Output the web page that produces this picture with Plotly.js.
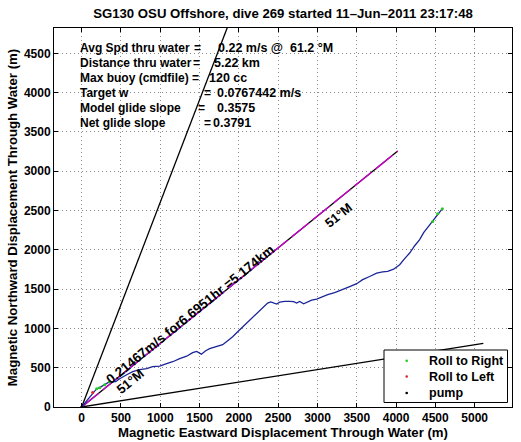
<!DOCTYPE html>
<html>
<head>
<meta charset="utf-8">
<script src="https://cdn.plot.ly/plotly-3.0.1.min.js"></script>
<style>html,body{margin:0;padding:0;background:#fff;}#chart{width:521px;height:442px;}</style>
</head>
<body>
<div id="chart"></div>
<script>
// ---- data ----
const trackX = [0, 76, 140, 191, 229, 293, 356, 433, 483, 573, 649, 738, 827, 903, 992, 1081, 1158, 1247, 1336, 1412, 1463, 1523, 1578, 1628, 1705, 1794, 1858, 1921, 1985, 2048, 2112, 2176, 2226, 2277, 2328, 2366, 2405, 2443, 2481, 2519, 2583, 2646, 2697, 2735, 2774, 2824, 2875, 2926, 2990, 3053, 3130, 3219, 3321, 3410, 3499, 3575, 3664, 3753, 3830, 3893, 3969, 4046, 4109, 4173, 4237, 4300, 4351, 4389, 4427, 4466, 4504, 4529, 4555, 4589];
const trackY = [0, 93, 183, 233, 246, 284, 322, 322, 360, 411, 449, 475, 487, 513, 519, 551, 576, 615, 646, 691, 707, 672, 716, 742, 767, 793, 844, 894, 958, 1018, 1073, 1136, 1187, 1238, 1280, 1323, 1336, 1327, 1310, 1333, 1343, 1343, 1340, 1323, 1343, 1314, 1340, 1359, 1374, 1403, 1429, 1454, 1492, 1531, 1569, 1620, 1660, 1702, 1718, 1725, 1753, 1810, 1887, 1959, 2052, 2129, 2218, 2268, 2319, 2361, 2421, 2459, 2489, 2523];

const rollRightX = [191, 229, 293, 356, 4466, 4529, 4589];
const rollRightY = [233, 246, 284, 322, 2361, 2459, 2523];
const rollLeftX = [140];
const rollLeftY = [183];
const pumpX = [0];
const pumpY = [0];

// guide lines from the origin: 21°, 51°, 81° magnetic, 5.174 km long
const guideEndX = [1854, 4021, 5110];
const guideEndY = [4830, 3256, 809];

const xTicks = [0, 500, 1000, 1500, 2000, 2500, 3000, 3500, 4000, 4500, 5000];
const yTicks = [0, 500, 1000, 1500, 2000, 2500, 3000, 3500, 4000, 4500];

const infoLabels = ["Avg Spd thru water", "Distance thru water", "Max buoy (cmdfile)", "Target w", "Model glide slope", "Net glide slope"];
const infoValues = ["0.22 m/s @\u00a0 61.2 \u00b0M", "5.22 km", "120 cc", "0.0767442 m/s", "0.3575", "0.3791"];

const legendNames = ["Roll to Right", "Roll to Left", "pump"];
const legendColors = ["#22cc22", "#dd2222", "#000000"];

const titleText = "SG130 OSU Offshore, dive 269 started 11\u2013Jun\u20132011 23:17:48";
const legLabel = "0.21467m/s for6.6951hr =5.174km";
const headLabel = "51\u00b0M";

// ---- geometry helpers (pixel -> data / paper), axis equal ----
const L = 54, R = 9, T = 28, B = 35, W = 521, H = 442;
const xr = [-352, 5475], yr = [0, 4822];
const pw = W - L - R, ph = H - T - B;
function px2x(px) { return xr[0] + (px - L) / pw * (xr[1] - xr[0]); }
function py2y(py) { return yr[0] + (H - B - py) / ph * (yr[1] - yr[0]); }
function px2p(px) { return (px - L) / pw; }
function py2p(py) { return (H - B - py) / ph; }

const FONT = "Liberation Sans, Arial, Helvetica, sans-serif";
const bold = (s) => ({family: FONT, size: s, color: '#000', weight: 'bold'});

const traces = [];
[0, 2].forEach(i => traces.push({
  x: [0, guideEndX[i]], y: [0, guideEndY[i]], mode: 'lines', type: 'scatter',
  line: {color: '#000', width: 1.3}, showlegend: false, hoverinfo: 'skip'
}));
traces.push({x: [0, guideEndX[1]], y: [0, guideEndY[1]], mode: 'lines', type: 'scatter',
  line: {color: '#000', width: 1.3}, showlegend: false, hoverinfo: 'skip'});
traces.push({x: [0, guideEndX[1]], y: [0, guideEndY[1]], mode: 'lines', type: 'scatter',
  line: {color: '#d000d0', width: 1.3, dash: '22px,5px'}, showlegend: false, hoverinfo: 'skip'});
traces.push({x: trackX, y: trackY, mode: 'lines', type: 'scatter',
  line: {color: '#1a2598', width: 1.3}, showlegend: false, hoverinfo: 'skip'});
traces.push({x: rollRightX, y: rollRightY, mode: 'markers', type: 'scatter', name: legendNames[0],
  marker: {color: legendColors[0], size: 3}, showlegend: false});
traces.push({x: rollLeftX, y: rollLeftY, mode: 'markers', type: 'scatter', name: legendNames[1],
  marker: {color: legendColors[1], size: 3}, showlegend: false});
traces.push({x: pumpX, y: pumpY, mode: 'markers', type: 'scatter', name: legendNames[2],
  marker: {color: legendColors[2], size: 3}, showlegend: false});

const annotations = [];
const rowY0 = 47.5, rowDy = 15;
const eqX = [197, 196, 195.5, 207, 201, 207];
const valEnd = [335, 262, 249, 303, 257, 253];
infoLabels.forEach((t, i) => {
  const py = rowY0 + i * rowDy;
  annotations.push({x: px2x(78), y: py2y(py), xref: 'x', yref: 'y', text: t,
    showarrow: false, xanchor: 'left', yanchor: 'middle', font: bold(12)});
  annotations.push({x: px2x(eqX[i]), y: py2y(py), xref: 'x', yref: 'y', text: '=',
    showarrow: false, xanchor: 'center', yanchor: 'middle', font: bold(12)});
  annotations.push({x: px2x(valEnd[i]), y: py2y(py), xref: 'x', yref: 'y', text: infoValues[i],
    showarrow: false, xanchor: 'right', yanchor: 'middle', font: bold(12.5)});
});
annotations.push({x: px2x(190), y: py2y(314), xref: 'x', yref: 'y', text: legLabel, textangle: -39,
  showarrow: false, xanchor: 'center', yanchor: 'middle', font: bold(13.4)});
annotations.push({x: px2x(130), y: py2y(381.5), xref: 'x', yref: 'y', text: headLabel, textangle: -39,
  showarrow: false, xanchor: 'center', yanchor: 'middle', font: bold(13)});
annotations.push({x: px2x(338), y: py2y(215), xref: 'x', yref: 'y', text: headLabel, textangle: -39,
  showarrow: false, xanchor: 'center', yanchor: 'middle', font: bold(13)});

// custom legend box (drawn in paper space)
const shapes = [{type: 'rect', xref: 'paper', yref: 'paper', layer: 'above',
  x0: px2p(384), x1: px2p(507.5), y0: py2p(402.5), y1: py2p(350),
  fillcolor: '#fff', line: {color: '#000', width: 1}}];
const legRowY = [360.7, 376.5, 393];
legendNames.forEach((n, i) => {
  const r = 1.3;
  shapes.push({type: 'circle', xref: 'paper', yref: 'paper', layer: 'above',
    x0: px2p(406.7 - r), x1: px2p(406.7 + r), y0: py2p(legRowY[i] + r), y1: py2p(legRowY[i] - r),
    fillcolor: legendColors[i], line: {width: 0}});
  annotations.push({x: px2p(427), y: py2p(legRowY[i]), xref: 'paper', yref: 'paper', text: n,
    showarrow: false, xanchor: 'left', yanchor: 'middle', font: bold(12.5)});
});

const axisCommon = {
  showline: true, linecolor: '#000', linewidth: 1, mirror: 'ticks',
  ticks: 'inside', ticklen: 4, tickcolor: '#000', tickwidth: 1,
  showgrid: true, gridcolor: '#8a8a8a', griddash: '1px,3px', gridwidth: 1,
  zeroline: false, tickmode: 'array', automargin: false,
  tickfont: bold(12)
};

const layout = {
  width: W, height: H,
  margin: {l: L, r: R, t: T, b: B, pad: 0},
  paper_bgcolor: '#fff', plot_bgcolor: '#fff',
  title: {text: titleText, x: (L + pw / 2) / W, xanchor: 'center', y: 1 - 13 / H, yanchor: 'middle',
    font: bold(13.2)},
  xaxis: Object.assign({}, axisCommon, {range: xr, tickvals: xTicks, ticktext: xTicks.map(String),
    title: {text: 'Magnetic Eastward Displacement Through Water (m)', standoff: 2, font: bold(13.2)}}),
  yaxis: Object.assign({}, axisCommon, {range: yr, tickvals: yTicks, ticktext: yTicks.map(String),
    title: {text: 'Magnetic Northward Displacement Through Water (m)', standoff: 3, font: bold(13.2)}}),
  showlegend: false,
  shapes: shapes,
  annotations: annotations
};

Plotly.newPlot('chart', traces, layout, {staticPlot: true, displayModeBar: false});
</script>
</body>
</html>
